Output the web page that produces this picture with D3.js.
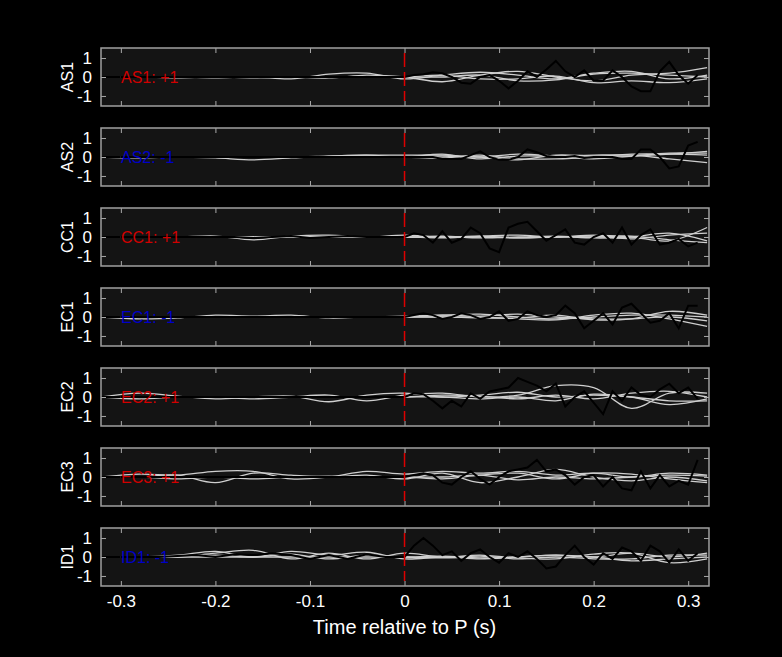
<!DOCTYPE html>
<html><head><meta charset="utf-8">
<script src="https://cdn.jsdelivr.net/npm/d3@7"></script>
<style>body{margin:0;background:#000}svg{display:block}text{font-family:"Liberation Sans",Arial,sans-serif}</style>
</head><body><svg id="chart" width="782" height="657"></svg>
<script>
const stations = ["AS1","AS2","CC1","EC1","EC2","EC3","ID1"]
const polarity = ["+1","-1","+1","-1","+1","+1","-1"]
const xTicks = [-0.3,-0.2,-0.1,0,0.1,0.2,0.3]
const yTicks = [-1,0,1]
// black trace: coarse before P, fine after P
const tPre = [-0.3,-0.28,-0.26,-0.24,-0.22,-0.2,-0.18,-0.16,-0.14,-0.12,-0.1,-0.08,-0.06,-0.04,-0.02]
const tPost = [0,0.01,0.02,0.03,0.04,0.05,0.06,0.07,0.08,0.09,0.1,0.11,0.12,0.13,0.14,0.15,0.16,0.17,0.18,0.19,0.2,0.21,0.22,0.23,0.24,0.25,0.26,0.27,0.28,0.29,0.3,0.31]
const blackPre = [
  [0,0,0,0,0,0,0,0,0,0,0,0,0,0,0],
  [0,0,0,0,0,0,0,0,0,0,0,0,0,0,0],
  [0,0,0,0,0,0,0,-0.05,0,0.05,-0.05,0,0.05,0,0],
  [0,0,0,0,0,0,0,0,0,0,0,0,0,0,0],
  [0,0,0,0,0,0,0,0,0,0,0,0,0,0,0],
  [0,0,0,0,0,0,0,0,0,0,0,0,0,0,0],
  [0,0,0,0.05,0.1,0,0.15,0.1,0.2,0.1,-0.1,0.1,-0.1,0.15,0]
]
const blackPost = [
  [0,0.1,0.15,0.25,0.2,0,-0.3,-0.35,0,0.1,-0.2,-0.6,-0.2,0.3,0,0.4,0.85,0.3,0,0.35,-0.2,-0.2,0.35,0,-0.5,-0.75,-0.75,0.3,0.8,0.1,-0.35,0.1],
  [0,0,0,0,-0.1,-0.1,-0.1,0.1,0.3,0,-0.15,-0.15,0,0.4,0.25,0.05,0,0,0.05,-0.05,0,0,0,-0.1,-0.1,0.4,0.4,0,-0.6,-0.5,0.6,0.8],
  [0,0.2,0.1,-0.3,0.3,-0.3,-0.1,0.5,0.2,-0.6,-0.8,0.5,0.7,0.8,0.3,-0.2,0.1,0.4,-0.3,-0.4,0,0.2,-0.3,0.5,-0.4,0.1,0.4,-0.4,-0.3,-0.1,-0.5,-0.3],
  [0,0.1,0.2,0.1,-0.1,0,0.2,0.1,-0.1,0,0.3,-0.2,-0.1,0.3,0.1,0,0.1,0.6,0.2,-0.6,-0.2,0.2,-0.4,0.5,0.7,0.2,-0.3,-0.2,0.2,-0.6,0.6,0.6],
  [0,0.2,0.15,-0.2,-0.6,-0.2,-0.5,0.2,-0.1,0.3,0.4,0.5,1.0,0.8,0.6,0.3,0.7,-0.5,0,0.3,-0.3,-0.9,0.3,-0.2,0.5,0.1,0,0.4,0.7,0.2,0.5,-0.1],
  [0,0.1,0.2,0.1,-0.3,-0.4,0,0.3,-0.1,-0.4,0,0.3,0.4,0.5,0.9,0.3,0.4,0.1,-0.4,0,0.1,-0.5,0,-0.6,-0.7,0.3,-0.6,0.1,-0.5,-0.2,-0.4,0.9],
  [0,0.6,1.0,0.6,0.1,0.3,-0.2,0.2,0.4,0,-0.3,0.2,0,0.3,-0.1,-0.6,-0.5,0.1,0.6,0,-0.4,0.2,-0.1,0.5,0.3,-0.2,0.6,0.3,-0.3,0.4,-0.2,0.2]
]
// gray traces: knots every 0.04 s from -0.32 to 0.32
const tGray = [-0.32,-0.28,-0.24,-0.2,-0.16,-0.12,-0.08,-0.04,0,0.04,0.08,0.12,0.16,0.2,0.24,0.28,0.32]
const gray = [
  [[0,0,-0.05,0,-0.05,0,-0.05,0.1,0,-0.25,0.1,0.3,0,-0.2,0.1,0.2,0.5],
   [0,0,0,-0.05,0,-0.1,0.15,0.2,-0.1,0.1,0.25,0.1,-0.1,0.2,0.3,-0.1,0.1],
   [0,0,0,0,0,0,0,0,0,0.1,-0.1,-0.1,0.05,-0.3,-0.2,-0.3,-0.1],
   [0,0,0,0,0,0,0,0,0,0,0.1,-0.2,-0.15,0.15,0.2,0.1,0]],
  [[0,-0.05,0,-0.05,-0.15,-0.05,0.05,0.1,0.1,0.1,0,-0.15,0.1,0.05,0.05,0.15,0.3],
   [0,0,0,0,0,0,0.05,0.1,0,0.15,-0.1,0.05,0.05,0.1,0.1,-0.1,-0.3],
   [0,0,0,0,0,0,0,0,0,-0.05,0.1,-0.1,-0.1,0,0.15,0.15,0.1],
   [0,0,0,0,0,0,0,0,0,0.05,0,0.15,0.05,-0.1,0.05,0.2,0.2]],
  [[0,0,0,0.05,-0.15,0.05,0.1,0,0.1,0,0.05,0.1,0,0.1,0,-0.2,0.5],
   [0,0,0,0,0,0,0,0,0,0.05,-0.05,0,0.05,-0.05,0,0.2,-0.2],
   [0,0,0,0,0,0,0,0,0,-0.05,0.05,-0.05,0,0.05,-0.1,0.1,0.2],
   [0,0,0,0,0,0,0,0,0,0,0,-0.05,0,0,0.05,-0.15,-0.3]],
  [[0,-0.1,-0.05,0.1,0.05,0.1,-0.05,0,0.05,0.1,0.15,0,-0.1,0,0.1,0.1,0],
   [0,0,0,0,0,0,0,0,0,0.1,0.05,0.15,0,-0.1,-0.1,0,-0.2],
   [0,0,0,0,0,0,0,0,0,0,0,-0.1,-0.15,0.1,0.2,-0.1,-0.5],
   [0,0,0,0,0,0,0,0,0,0,-0.05,-0.05,0.1,-0.15,-0.1,0.3,0.1]],
  [[0,0.2,0.05,-0.1,0,0.05,-0.25,0.1,0.2,0,0.1,0.25,0,0.1,0,-0.2,-0.2],
   [0,-0.1,0,0,-0.1,0,0.1,-0.2,0.1,0.2,0,0.1,0.6,0.5,-0.6,0.2,0.2],
   [0,0,0,0,0,0,0,0,0,0,-0.1,0,-0.2,0.15,0,-0.4,-0.1],
   [0,0,0,0,0,0,0,0,0,0.1,0.05,-0.1,0.1,-0.1,0.2,0.3,0]],
  [[0,0.15,0.1,0.3,0.3,-0.1,0,0.3,0.15,0.3,0.2,0.3,0.1,0.2,0,0.2,0.1],
   [0,0,0.1,-0.3,0.2,0.1,0,0.1,-0.1,0.2,-0.3,0,0.4,0,-0.2,0,-0.2],
   [0,0,-0.1,0,-0.1,0,0.05,0,0,-0.1,0.1,0.2,-0.1,0.2,0.15,-0.1,-0.3],
   [0,0,0,0,0,0,0,0,0,0,0.1,-0.15,0,-0.1,0,0.1,0.05]],
  [[0,0,0.1,0.3,0,0.3,0.1,0.25,-0.1,0,-0.1,0,0.1,0,0.2,0,0.2],
   [0,0,0,0.2,0.35,-0.1,0.2,-0.1,0.2,0,0.1,-0.05,-0.1,0.15,0.2,-0.3,-0.1],
   [0,0,0,0.1,0,0.15,-0.1,0.1,0,-0.05,0.05,-0.1,0,-0.1,-0.1,0.1,0.1],
   [0,0,0,0,0,0,0,0,0,0.05,-0.05,0,0.1,0,-0.2,-0.1,0]]
]

const svg = d3.select("#chart")
const left = 101, right = 709, ph = 58, tops = [48,128,208,288,368,448,528]
const x = d3.scaleLinear().domain([-0.321,0.322]).range([left,right])
const tAll = tPre.concat(tPost)
const fmt = d => String(d)

stations.forEach((st,i)=>{
  const top = tops[i]
  const y = d3.scaleLinear().domain([-1.53,1.53]).range([top+ph,top])
  const g = svg.append("g")
  g.append("rect").attr("x",left).attr("y",top).attr("width",right-left).attr("height",ph).attr("fill","#141414")
  g.append("defs").append("clipPath").attr("id","c"+i).append("rect")
    .attr("x",left).attr("y",top).attr("width",right-left).attr("height",ph)
  const plot = g.append("g").attr("clip-path",`url(#c${i})`)
  const lineG = d3.line().x((d,j)=>x(tGray[j])).y(d=>y(d)).curve(d3.curveCatmullRom)
  gray[i].forEach(s=>{
    plot.append("path").attr("d",lineG(s)).attr("fill","none").attr("stroke","#cfcfcf").attr("stroke-width",1.3)
  })
  const bvals = blackPre[i].concat(blackPost[i])
  const lineB = d3.line().x((d,j)=>x(tAll[j])).y(d=>y(d))
  plot.append("path").attr("d","M"+left+","+y(0)+"L"+x(-0.3)+","+y(0)).attr("stroke","#000").attr("stroke-width",2)
  plot.append("path").attr("d",lineB(bvals)).attr("fill","none").attr("stroke","#000").attr("stroke-width",2)
  plot.append("line").attr("x1",x(0)).attr("x2",x(0)).attr("y1",top+5).attr("y2",top+ph-5)
    .attr("stroke","#d00").attr("stroke-width",1.5).attr("stroke-dasharray","14,5")
  const axB = g.append("g").attr("transform",`translate(0,${top+ph})`)
    .call(d3.axisBottom(x).tickValues(xTicks).tickSizeInner(-5).tickSizeOuter(0).tickFormat(i===6?fmt:""))
  const axT = g.append("g").attr("transform",`translate(0,${top})`)
    .call(d3.axisTop(x).tickValues(xTicks).tickSizeInner(-5).tickSizeOuter(0).tickFormat(""))
  const axL = g.append("g").attr("transform",`translate(${left},0)`)
    .call(d3.axisLeft(y).tickValues(yTicks).tickSizeInner(-5).tickSizeOuter(0).tickPadding(9).tickFormat(fmt))
  const axR = g.append("g").attr("transform",`translate(${right},0)`)
    .call(d3.axisRight(y).tickValues(yTicks).tickSizeInner(-5).tickSizeOuter(0).tickFormat(""))
  ;[axB,axT,axL,axR].forEach(a=>{
    a.select(".domain").remove()
    a.selectAll("line").attr("stroke","#aaa")
    a.selectAll("text").attr("fill","#fff").style("font-size","17px")
  })
  axB.selectAll("text").attr("dy","1.05em")
  g.append("rect").attr("x",left).attr("y",top).attr("width",right-left).attr("height",ph)
    .attr("fill","none").attr("stroke","#a0a0a0").attr("stroke-width",1.5)
  g.append("text").attr("transform",`translate(73,${top+ph/2}) rotate(-90)`).attr("text-anchor","middle")
    .attr("fill","#fff").style("font-size","16px").text(st)
  g.append("text").attr("x",121).attr("y",y(0)+6).attr("fill",polarity[i]==="+1"?"#d00000":"#0000c8")
    .style("font-size","16px").text(`${st}: ${polarity[i]}`)
})
svg.append("text").attr("x",x(0)).attr("y",634).attr("text-anchor","middle").attr("fill","#fff")
  .style("font-size","20px").text("Time relative to P (s)")
</script></body></html>
